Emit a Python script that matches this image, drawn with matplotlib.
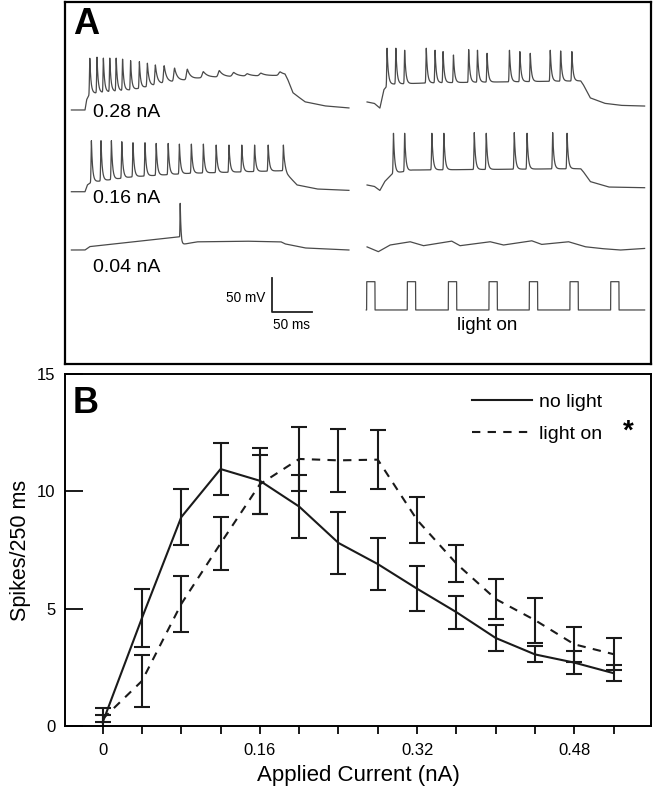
import numpy as np
import matplotlib.pyplot as plt

plt.rcParams['font.family'] = ['Liberation Sans', 'DejaVu Sans']

# ---- panel B: spikes per 250 ms vs applied current ----
current = [0, 0.04, 0.08, 0.12, 0.16, 0.20, 0.24, 0.28, 0.32, 0.36, 0.40, 0.44, 0.48, 0.52]
no_light = [0.15, 4.6, 8.9, 10.95, 10.45, 9.35, 7.8, 6.9, 5.85, 4.85, 3.75, 3.05, 2.7, 2.25]
no_light_err = [0.6, 1.25, 1.2, 1.12, 1.4, 1.34, 1.33, 1.1, 0.96, 0.71, 0.55, 0.34, 0.48, 0.34]
light_on = [0.3, 1.92, 5.2, 7.78, 10.3, 11.38, 11.32, 11.35, 8.78, 6.92, 5.41, 4.51, 3.48, 3.06]
light_on_err = [0.15, 1.1, 1.18, 1.13, 1.25, 1.38, 1.35, 1.25, 0.98, 0.79, 0.87, 0.96, 0.75, 0.68]
x_ticks = [0, 0.16, 0.32, 0.48]
y_ticks = [0, 5, 10, 15]

# ---- panel A: example traces (ms, mV above rest) ----
# no light, 0.28 nA
l28_keys_t = [-17, 0, 2, 6, 60, 100, 150, 250, 253, 260, 275, 300, 330]
l28_keys_v = [0, 0, 15, 24, 30, 40, 48, 51, 45, 25, 12, 6, 3]
l28_spikes = [6, 15, 23, 31, 39, 47, 57, 68, 78, 88, 99, 112, 128, 148, 168, 186, 203, 220, 244]
l28_peaks = [76, 77.5, 76, 76, 76, 74.5, 72.5, 71, 68.7, 66, 64.7, 61.3, 59.8, 56.3, 57.8, 55, 53, 54, 56]
l28_tau = [1.5] * 8 + [2, 2.5, 3, 3.5, 4, 5, 5, 6, 6, 6, 6]
# no light, 0.16 nA
l16_keys_t = [-17, 0, 3, 8, 60, 130, 250, 253, 265, 290, 330]
l16_keys_v = [0, 0, 10, 14, 22, 27, 31, 25, 10, 4, 2]
l16_spikes = [8, 20, 33, 46, 60, 75, 89, 104, 118, 133, 148, 164, 180, 196, 212, 229, 248]
l16_peaks = [75, 75, 75, 73.5, 72, 72, 71, 71, 70, 70, 70, 68.6, 68.6, 68.6, 68.6, 68.6, 68.6]
# no light, 0.04 nA
l04_keys_t = [-17, 0, 6, 118, 121, 140, 200, 245, 250, 275, 330]
l04_keys_v = [0, 0, 5, 19.5, 8, 12, 13, 12, 9, 3, 0]
l04_spikes = [119]
l04_peaks = [68.6]
# light on, 0.28 nA
r28_keys_t = [-17, -8, -1, 4, 10, 60, 120, 250, 253, 262, 280, 300, 330]
r28_keys_v = [2, 0, -7, 20, 28, 30, 31, 33, 28, 8, 0, -3, -4]
r28_spikes = [8, 19, 30, 57, 68, 78, 91, 110, 121, 133, 161, 174, 187, 212, 225, 239]
r28_peaks = [81, 81, 78, 81, 78, 76, 71, 79, 78, 73.5, 78, 76, 73.5, 78, 77, 76]
# light on, 0.16 nA
r16_keys_t = [-17, -8, -1, 5, 15, 40, 250, 253, 262, 285, 330]
r16_keys_v = [0, -2, -8, 5, 17, 22, 24, 20, 5, -3, -4]
r16_spikes = [16, 30, 64, 79, 117, 132, 167, 183, 215, 233]
r16_peaks = [76, 76, 76, 76, 77, 76, 77, 76, 77, 76]
# light on, 0.04 nA
r04_keys_t = [-17.5, -3, 11.6, 36.6, 53.3, 88.7, 99, 136.6, 153.3, 188.7, 201, 234.6, 255.4, 274, 299, 328]
r04_keys_v = [0, -7.3, 2.5, 7.4, 1.5, 8.3, 1.5, 7.4, 2.5, 8.8, 3.4, 7.4, 0, -2.5, -4.9, -2.5]
# light pulses
pulse_on = [-17.5, 33.3, 84.6, 135.4, 185.8, 236.6, 287.5]
pulse_width = 10.4
pulse_height = 41.6

t = np.arange(-17, 330, 0.1)


def make_trace(keys_t, keys_v, spike_t=(), spike_peak=(), tau=1.5):
    v = np.interp(t, keys_t, keys_v)
    taus = np.broadcast_to(tau, (len(spike_t),))
    for ts, pk, tu in zip(spike_t, spike_peak, taus):
        amp = pk - np.interp(ts, keys_t, keys_v)
        d = t - ts
        v = v + amp * np.where(d < 0, np.exp(-(d / (0.4 * tu)) ** 2), np.exp(-d / tu))
    return v


fig = plt.figure(figsize=(6.53, 7.97), dpi=100)

# ================= panel A =================
ax_a = fig.add_axes([65 / 653, (797 - 364) / 797, 586 / 653, 362 / 797])
ax_a.set_xlim(0, 732.5)
ax_a.set_ylim(-532.35, 0)
ax_a.set_xticks([])
ax_a.set_yticks([])
for s in ax_a.spines.values():
    s.set_linewidth(1.6)

left_t0, right_t0 = 25, 394.6
trace_kw = dict(color='#4a4a4a', lw=0.9)
rows = [
    (left_t0, -158.8, make_trace(l28_keys_t, l28_keys_v, l28_spikes, l28_peaks, l28_tau)),
    (left_t0, -279.0, make_trace(l16_keys_t, l16_keys_v, l16_spikes, l16_peaks)),
    (left_t0, -364.7, make_trace(l04_keys_t, l04_keys_v, l04_spikes, l04_peaks, 1.0)),
    (right_t0, -149.0, make_trace(r28_keys_t, r28_keys_v, r28_spikes, r28_peaks)),
    (right_t0, -269.1, make_trace(r16_keys_t, r16_keys_v, r16_spikes, r16_peaks)),
    (right_t0, -359.9, make_trace(r04_keys_t, r04_keys_v)),
]
for x0, y0, v in rows:
    ax_a.plot(x0 + t, y0 + v, **trace_kw)

t_light = np.arange(-18, 330, 0.1)
light = np.zeros_like(t_light)
for on in pulse_on:
    light[(t_light >= on) & (t_light < on + pulse_width)] = pulse_height
ax_a.plot(right_t0 + t_light, -452.9 + light, **trace_kw)

for label, y in [('0.28 nA', -162.5), ('0.16 nA', -289), ('0.04 nA', -390.5)]:
    ax_a.text(35, y, label, fontsize=14, ha='left', va='center')

# scale bar 50 mV / 50 ms
ax_a.plot([258.4, 258.4, 308.4], [-406.3, -456.3, -456.3], color='#222222', lw=1.3)
ax_a.text(250, -435.3, '50 mV', fontsize=9.8, ha='right', va='center')
ax_a.text(283.4, -474.5, '50 ms', fontsize=9.8, ha='center', va='center')
ax_a.text(527.5, -475.5, 'light on', fontsize=13.5, ha='center', va='center')
ax_a.text(0.013, 0.985, 'A', transform=ax_a.transAxes, fontsize=26,
          fontweight='bold', ha='left', va='top')

# ================= panel B =================
ax_b = fig.add_axes([65 / 653, (797 - 726) / 797, 586 / 653, 352 / 797])
ax_b.plot(current, no_light, color='#1a1a1a', lw=1.5, label='no light')
ax_b.plot(current, light_on, color='#1a1a1a', lw=1.5, ls=(0, (4, 3.5)), label='light on')
ax_b.errorbar(current, no_light, yerr=no_light_err, fmt='none', ecolor='#1a1a1a',
              elinewidth=1.5, capsize=5.8, capthick=1.5)
ax_b.errorbar(current, light_on, yerr=light_on_err, fmt='none', ecolor='#1a1a1a',
              elinewidth=1.5, capsize=5.8, capthick=1.5)

ax_b.set_xlim(-0.0383, 0.558)
ax_b.set_ylim(0, 15)
ax_b.set_xticks(current, minor=True)
ax_b.set_xticks(x_ticks)
ax_b.set_xticklabels(['0', '0.16', '0.32', '0.48'])
ax_b.set_yticks(y_ticks)
ax_b.tick_params(axis='x', which='both', direction='out', length=6, width=1.4,
                 labelsize=12, pad=6, color='#1a1a1a')
ax_b.tick_params(axis='y', direction='in', length=13, width=1.4, labelsize=12, pad=7,
                 color='#1a1a1a')
for s in ax_b.spines.values():
    s.set_linewidth(1.4)

ax_b.set_xlabel('Applied Current (nA)', fontsize=16)
ax_b.set_ylabel('Spikes/250 ms', fontsize=15.5)
ax_b.xaxis.set_label_coords(0.5, -0.112)
ax_b.yaxis.set_label_coords(-0.058, 0.5)

ax_b.legend(loc='upper left', bbox_to_anchor=(0.6945, 0.945), frameon=False,
            fontsize=14, borderpad=0, borderaxespad=0, handlelength=3.1,
            handletextpad=0.36, labelspacing=0.72)
ax_b.text(0.961, 0.835, '*', transform=ax_b.transAxes, fontsize=20,
          fontweight='bold', ha='center', va='center')
ax_b.text(0.0137, 0.966, 'B', transform=ax_b.transAxes, fontsize=26,
          fontweight='bold', ha='left', va='top')

fig.savefig('out.png', dpi=100)
